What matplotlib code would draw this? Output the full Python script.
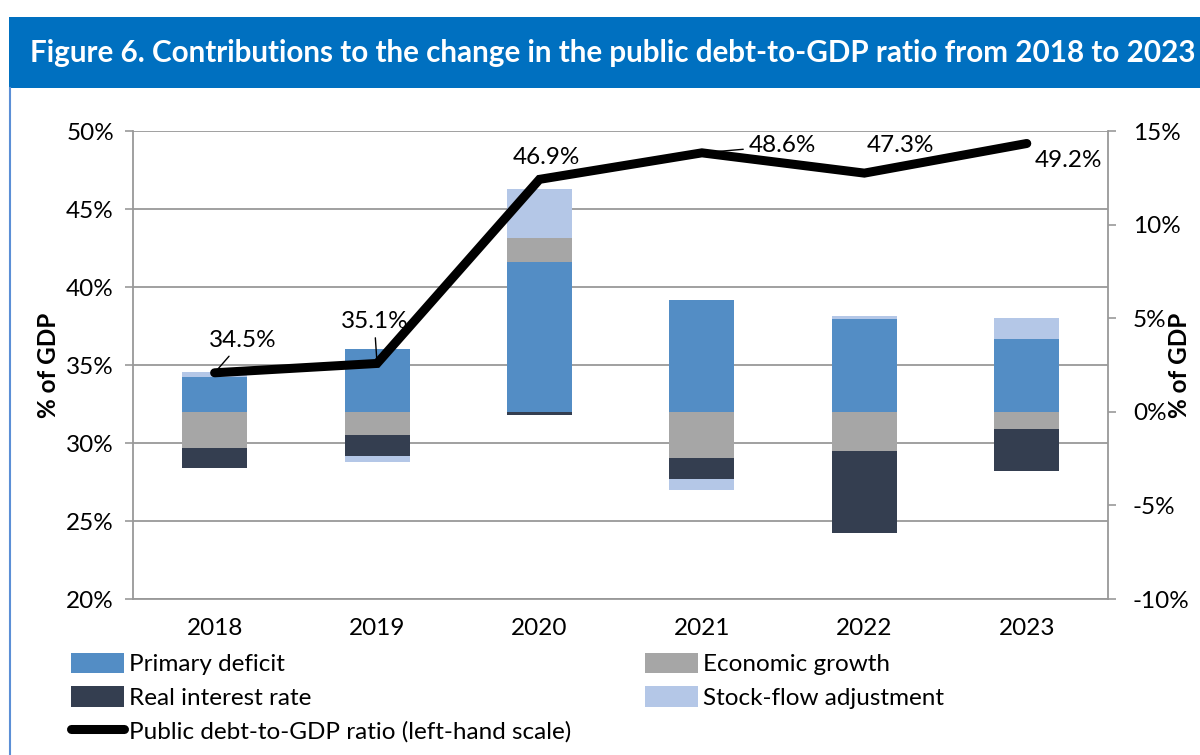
import matplotlib.pyplot as plt
from matplotlib.patches import Rectangle, Patch
from matplotlib.lines import Line2D
from matplotlib.ticker import FuncFormatter, MultipleLocator
import numpy as np

plt.rcParams['font.family'] = ['Lato', 'DejaVu Sans']

years = ['2018', '2019', '2020', '2021', '2022', '2023']
primary_deficit = [1.87, 3.33, 8.00, 5.95, 4.94, 3.91]
economic_growth = [-1.95, -1.24, 1.30, -2.48, -2.08, -0.91]
real_interest = [-1.03, -1.12, -0.18, -1.12, -4.37, -2.25]
stock_flow = [0.27, -0.30, 2.61, -0.60, 0.18, 1.10]
debt_ratio = [34.5, 35.1, 46.9, 48.6, 47.3, 49.2]

components = [
    ('Primary deficit', primary_deficit, '#538DC5'),
    ('Economic growth', economic_growth, '#A6A6A6'),
    ('Real interest rate', real_interest, '#343E50'),
    ('Stock-flow adjustment', stock_flow, '#B4C7E7'),
]

W, H = 1200, 755
fig = plt.figure(figsize=(W / 100, H / 100), dpi=100)
fs = 17.5

# header banner
fig.patches.append(Rectangle((9 / W, 1 - 88 / H), 1, 71 / H, transform=fig.transFigure,
                             facecolor='#0070C0', edgecolor='none'))
fig.lines.append(Line2D([10 / W, 10 / W], [0, 1 - 88 / H], transform=fig.transFigure,
                        color='#5B8FD6', lw=1.5))
fig.text(613 / W, 1 - 53 / H,
         'Figure 6. Contributions to the change in the public debt-to-GDP ratio from 2018 to 2023',
         color='white', fontsize=21.3, fontweight='bold', ha='center', va='center')

rect = [133.4 / W, 1 - 599 / H, (1108 - 133.4) / W, (599 - 131) / H]
ax = fig.add_axes(rect)
ax2 = ax.twinx()
ax3 = ax.twinx()
ax.set_zorder(1)
ax2.set_zorder(2)
ax3.set_zorder(3)
for a in (ax2, ax3):
    a.patch.set_visible(False)

x = np.arange(len(years))
grid_col = '#999999'

# left scale: debt ratio, with gridlines
ax.set_xlim(-0.5, len(years) - 0.5)
ax.set_ylim(20, 50)
ax.yaxis.set_major_locator(MultipleLocator(5))
ax.yaxis.set_major_formatter(FuncFormatter(lambda v, p: f'{v:.0f}%'))
ax.grid(axis='y', color=grid_col, lw=1.3)
ax.set_axisbelow(True)
ax.set_xticks(x)
ax.set_xticklabels(years)
ax.tick_params(axis='x', length=0, pad=14, labelsize=fs)
ax.tick_params(axis='y', length=6, width=1.2, color=grid_col, pad=8, labelsize=fs)
for s in ('top', 'right'):
    ax.spines[s].set_visible(False)
for s in ('left', 'bottom'):
    ax.spines[s].set_color(grid_col)
    ax.spines[s].set_linewidth(1.3)
ax.set_ylabel('% of GDP', fontsize=fs, fontweight='bold')
ax.yaxis.set_label_coords(-0.075, 0.5)

# right scale: stacked contributions
pos_base = np.zeros(len(years))
neg_base = np.zeros(len(years))
handles = []
for name, vals, col in components:
    vals = np.array(vals)
    bottom = np.where(vals >= 0, pos_base, neg_base)
    ax2.bar(x, vals, 0.4, bottom=bottom, color=col, edgecolor='none')
    pos_base += np.clip(vals, 0, None)
    neg_base += np.clip(vals, None, 0)
    handles.append(Patch(facecolor=col, label=name))

ax2.set_ylim(-10, 15)
ax2.yaxis.set_major_locator(MultipleLocator(5))
ax2.yaxis.set_major_formatter(FuncFormatter(lambda v, p: f'{v:.0f}%'))
ax2.tick_params(axis='y', length=6, width=1.2, color=grid_col, pad=12, labelsize=fs)
for s in ('top', 'left', 'bottom'):
    ax2.spines[s].set_visible(False)
ax2.spines['right'].set_color(grid_col)
ax2.spines['right'].set_linewidth(1.3)
ax2.set_ylabel('% of GDP', fontsize=fs, fontweight='bold', rotation=90)
ax2.yaxis.set_label_coords(1.062, 0.5)

# debt ratio line on top
ax3.set_ylim(20, 50)
ax3.axis('off')
line, = ax3.plot(x, debt_ratio, color='black', lw=6.5, solid_capstyle='round',
                 solid_joinstyle='miter', label='Public debt-to-GDP ratio (left-hand scale)')

offsets = [(20, 23), (-2, 30), (5, 16), (58, 5), (26, 20), (30, -12)]
leaders = [True, True, False, True, False, False]
for xi, v, off, lead in zip(x, debt_ratio, offsets, leaders):
    kw = dict(arrowprops=dict(arrowstyle='-', color='black', lw=1, shrinkA=2, shrinkB=0)) if lead else {}
    ax3.annotate(f'{v:.1f}%', (xi, v), xytext=off, textcoords='offset points',
                 ha='center', va='center', fontsize=fs, **kw)

legend_items = [handles[0], handles[2], line, handles[1], handles[3]]
fig.legend(handles=legend_items, labels=[h.get_label() for h in legend_items],
           loc='upper left', bbox_to_anchor=(71 / W, 1 - 653 / H), ncol=2, frameon=False,
           fontsize=fs, handlelength=2.2, handleheight=0.9, handletextpad=0.2,
           columnspacing=3.0, labelspacing=0.45, borderaxespad=0, borderpad=0)

fig.savefig('out.png', dpi=100)
